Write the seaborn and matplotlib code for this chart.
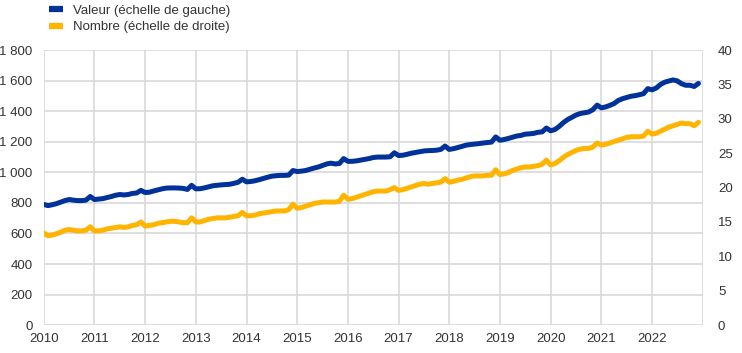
import numpy as np
import pandas as pd
import matplotlib
matplotlib.use("Agg")
import matplotlib.pyplot as plt
from matplotlib.ticker import FuncFormatter, MultipleLocator
from matplotlib.lines import Line2D
import seaborn as sns

# Monthly values, Jan..Dec for each year 2010-2022
years = list(range(2010, 2023))

valeur = [
    [790, 782, 788, 795, 805, 815, 822, 818, 815, 815, 818, 842],
    [822, 825, 828, 835, 842, 850, 855, 852, 855, 862, 865, 882],
    [868, 870, 878, 885, 892, 897, 898, 898, 897, 895, 888, 915],
    [892, 893, 898, 905, 912, 915, 918, 920, 922, 928, 935, 955],
    [938, 940, 945, 952, 960, 968, 975, 978, 980, 980, 982, 1012],
    [1005, 1008, 1012, 1020, 1028, 1035, 1045, 1055, 1060, 1055, 1058, 1090],
    [1072, 1072, 1075, 1080, 1085, 1090, 1097, 1100, 1100, 1100, 1102, 1128],
    [1110, 1112, 1118, 1125, 1130, 1135, 1140, 1142, 1143, 1145, 1150, 1172],
    [1150, 1155, 1162, 1170, 1178, 1182, 1185, 1188, 1192, 1195, 1198, 1232],
    [1210, 1215, 1222, 1230, 1238, 1242, 1250, 1252, 1255, 1262, 1265, 1290],
    [1272, 1280, 1300, 1325, 1345, 1360, 1375, 1385, 1390, 1395, 1410, 1440],
    [1422, 1428, 1438, 1450, 1470, 1482, 1490, 1498, 1502, 1508, 1515, 1548],
    [1540, 1552, 1575, 1590, 1598, 1605, 1598, 1580, 1570, 1570, 1562, 1582],
]

nombre = [
    [13.4, 13.0, 13.1, 13.3, 13.5, 13.8, 13.9, 13.8, 13.7, 13.7, 13.8, 14.3],
    [13.7, 13.7, 13.8, 14.0, 14.1, 14.2, 14.3, 14.2, 14.3, 14.5, 14.6, 15.0],
    [14.4, 14.5, 14.6, 14.8, 14.9, 15.0, 15.1, 15.1, 15.0, 14.9, 14.9, 15.6],
    [15.0, 15.0, 15.2, 15.4, 15.5, 15.6, 15.6, 15.6, 15.7, 15.8, 15.9, 16.4],
    [15.9, 15.9, 16.0, 16.2, 16.3, 16.4, 16.5, 16.6, 16.6, 16.6, 16.8, 17.6],
    [17.0, 17.1, 17.3, 17.5, 17.7, 17.8, 17.9, 17.9, 17.9, 17.9, 18.0, 18.9],
    [18.3, 18.4, 18.6, 18.8, 19.0, 19.2, 19.4, 19.5, 19.5, 19.5, 19.7, 20.0],
    [19.6, 19.7, 19.9, 20.1, 20.3, 20.5, 20.6, 20.5, 20.6, 20.7, 20.8, 21.3],
    [20.8, 20.9, 21.1, 21.2, 21.4, 21.6, 21.7, 21.7, 21.7, 21.8, 21.8, 22.6],
    [21.9, 22.0, 22.2, 22.5, 22.7, 22.9, 23.0, 23.0, 23.1, 23.2, 23.4, 24.0],
    [23.3, 23.5, 23.9, 24.4, 24.8, 25.1, 25.4, 25.6, 25.7, 25.7, 25.9, 26.5],
    [26.2, 26.3, 26.5, 26.7, 26.9, 27.1, 27.3, 27.4, 27.4, 27.4, 27.5, 28.2],
    [27.8, 27.9, 28.2, 28.5, 28.8, 29.0, 29.2, 29.4, 29.3, 29.3, 29.0, 29.5],
]

labels = ["Valeur (échelle de gauche)", "Nombre (échelle de droite)"]
blue = "#003299"
yellow = "#FFB400"
text_color = "#333333"
grid_color = "#d9d9d9"

# Build a monthly table (fractional year as x)
rows = []
for i, y in enumerate(years):
    for m in range(12):
        rows.append({"t": y + m / 12, "valeur": valeur[i][m], "nombre": nombre[i][m]})
df = pd.DataFrame(rows)

sns.set_style("white")
plt.rcParams["font.family"] = ["Liberation Sans", "DejaVu Sans"]

fig, ax = plt.subplots(figsize=(7.42, 3.53), dpi=100)
fig.subplots_adjust(left=0.059, right=0.947, top=0.858, bottom=0.079)
ax2 = ax.twinx()

sns.lineplot(data=df, x="t", y="valeur", ax=ax, color=blue, linewidth=3.6)
sns.lineplot(data=df, x="t", y="nombre", ax=ax2, color=yellow, linewidth=3.6)

ax.set_xlim(2010, 2023)
ax.set_ylim(0, 1800)
ax2.set_ylim(0, 40)
ax.yaxis.set_major_locator(MultipleLocator(200))
ax2.yaxis.set_major_locator(MultipleLocator(5))
ax.set_xticks(years + [2023])
ax.set_xticklabels([str(y) for y in years] + [""])
ax.yaxis.set_major_formatter(FuncFormatter(lambda v, p: f"{int(v):,}".replace(",", " ")))

for a in (ax, ax2):
    a.set_xlabel("")
    a.set_ylabel("")
    for s in a.spines.values():
        s.set_visible(False)
    a.tick_params(length=0, labelsize=9.5, colors=text_color)

ax.tick_params(axis="y", pad=8)
ax.tick_params(axis="x", pad=6)
ax2.tick_params(axis="y", pad=11)

ax.grid(True, axis="both", color=grid_color, linewidth=1.2)
ax.set_axisbelow(True)
ax2.grid(False)

handles = [
    Line2D([], [], color=blue, linewidth=4.5, solid_capstyle="butt"),
    Line2D([], [], color=yellow, linewidth=4.5, solid_capstyle="butt"),
]
fig.legend(handles, labels, loc="upper left", bbox_to_anchor=(0.05, 1.02),
           frameon=False, fontsize=9.5, handlelength=1.1, handletextpad=0.7,
           labelspacing=0.3, labelcolor=text_color)

fig.savefig("out.png", dpi=100)
